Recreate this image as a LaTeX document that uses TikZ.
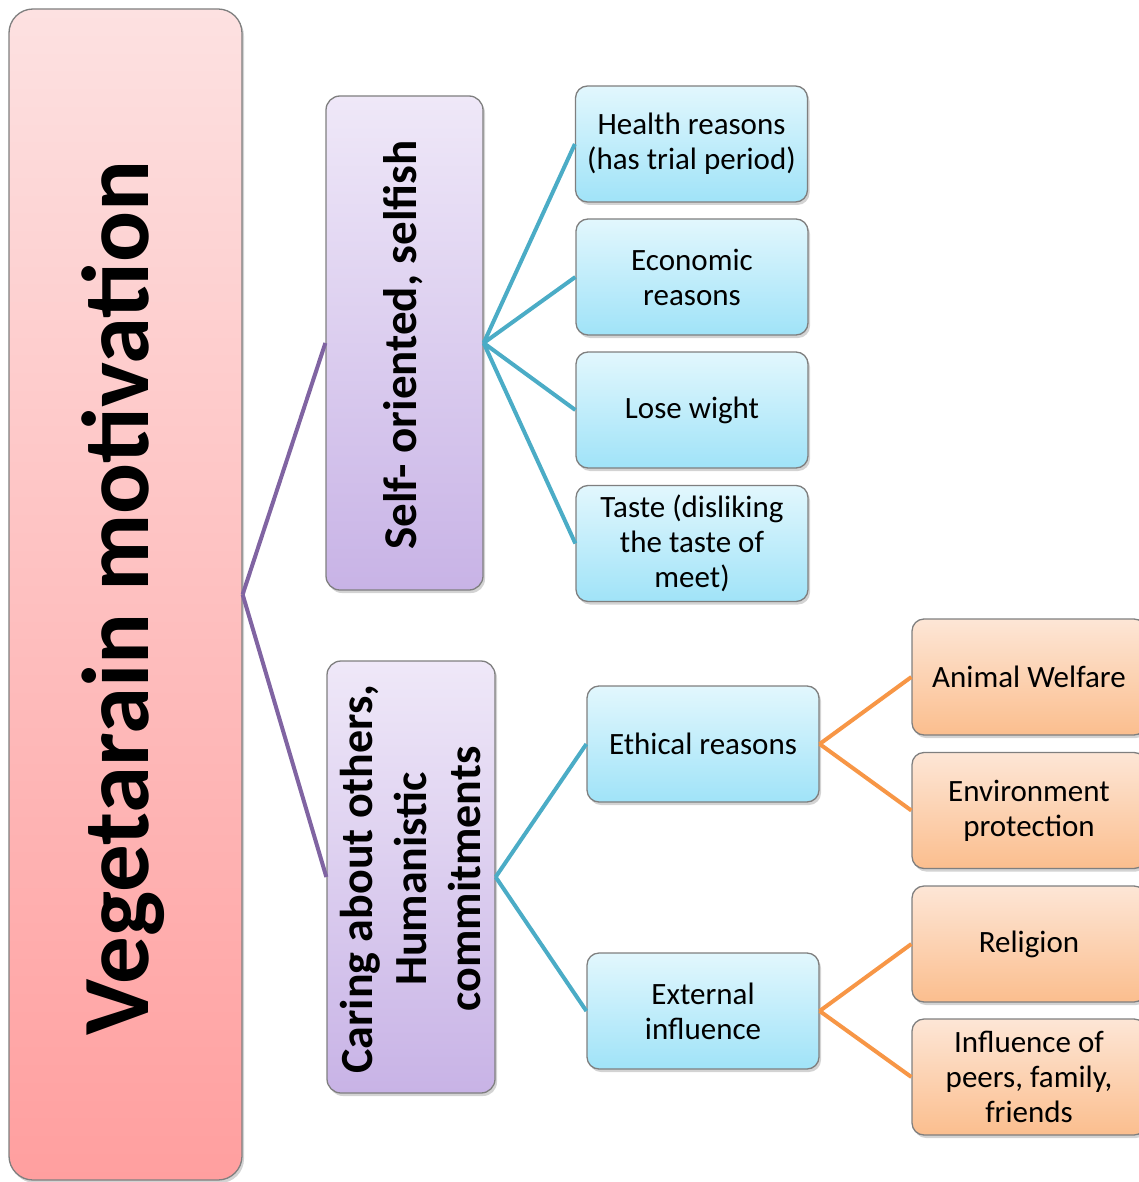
\documentclass[tikz,border=0pt]{standalone}
\usepackage{fontspec}
\setmainfont{Carlito}
\usetikzlibrary{shadows}
\definecolor{bordgray}{HTML}{7F7F7F}
\definecolor{purpline}{HTML}{8064A2}
\definecolor{blueline}{HTML}{4BACC6}
\definecolor{orangeline}{HTML}{F79646}
\definecolor{pinktop}{HTML}{FDE1E1}
\definecolor{pinkbot}{HTML}{FF9F9F}
\definecolor{lavtop}{HTML}{EFE8F8}
\definecolor{lavbot}{HTML}{C8B3E6}
\definecolor{bluetop}{HTML}{E2F7FD}
\definecolor{bluebot}{HTML}{A0E3F8}
\definecolor{ortop}{HTML}{FDE6D6}
\definecolor{orbot}{HTML}{FBBE8E}
\tikzset{
  basebox/.style={draw=bordgray, line width=1.3pt, rounded corners=12pt, align=center,
    drop shadow={shadow xshift=2pt, shadow yshift=-3pt, opacity=0.35}, inner sep=2pt},
  mainbox/.style={basebox, rounded corners=24pt, top color=pinktop, bottom color=pinkbot,
    minimum width=233pt, minimum height=1171pt},
  lavbox/.style={basebox, rounded corners=14pt, top color=lavtop, bottom color=lavbot},
  bluebox/.style={basebox, top color=bluetop, bottom color=bluebot,
    minimum width=232pt, minimum height=116pt, font=\fontsize{31}{35}\selectfont},
  orbox/.style={basebox, top color=ortop, bottom color=orbot,
    minimum width=234pt, minimum height=116pt, font=\fontsize{31}{35}\selectfont},
  plink/.style={draw=purpline, line width=4pt},
  blink/.style={draw=blueline, line width=4pt},
  olink/.style={draw=orangeline, line width=4pt}
}
\begin{document}
\begin{tikzpicture}[x=1pt, y=-1pt]
\useasboundingbox (0,0) rectangle (1138,1182);
% main
\node[mainbox] (main) at (125.5,594.5) {};
\node[rotate=90, font=\bfseries\fontsize{95}{100}\selectfont] (maintext) at (123,598) {Vegetarain motivation};
% level 2
\node[lavbox, minimum width=157pt, minimum height=494pt] (self) at (404.5,343) {};
\node[rotate=90, font=\bfseries\fontsize{47}{54}\selectfont] (selftext) at (403,345) {Self- oriented, selfish};
\node[lavbox, minimum width=168pt, minimum height=432pt] (care) at (411,877) {};
\node[rotate=90, align=center, font=\bfseries\fontsize{46}{54}\selectfont] (caretext) at (411,879) {Caring about others,\\Humanistic\\commitments};
% level 3 blue
\node[bluebox] (health) at (691.5,144) {Health reasons\\(has trial period)};
\node[bluebox] (econ) at (692,277) {Economic\\reasons};
\node[bluebox] (lose) at (692,410) {Lose wight};
\node[bluebox] (taste) at (692,543.5) {Taste (disliking\\the taste of\\meet)};
\node[bluebox] (ethic) at (703,744) {Ethical reasons};
\node[bluebox] (ext) at (703,1011) {External\\influence};
% level 4 orange
\node[orbox] (animal) at (1029,677) {Animal Welfare};
\node[orbox] (env) at (1029,810.5) {Environment\\protection};
\node[orbox] (rel) at (1029,944) {Religion};
\node[orbox] (infl) at (1029,1077) {Influence of\\peers, family,\\friends};
% connectors
\draw[plink] (main.east) -- (self.west);
\draw[plink] (main.east) -- (care.west);
\draw[blink] (self.east) -- (health.west);
\draw[blink] (self.east) -- (econ.west);
\draw[blink] (self.east) -- (lose.west);
\draw[blink] (self.east) -- (taste.west);
\draw[blink] (care.east) -- (ethic.west);
\draw[blink] (care.east) -- (ext.west);
\draw[olink] (ethic.east) -- (animal.west);
\draw[olink] (ethic.east) -- (env.west);
\draw[olink] (ext.east) -- (rel.west);
\draw[olink] (ext.east) -- (infl.west);
\end{tikzpicture}
\end{document}
